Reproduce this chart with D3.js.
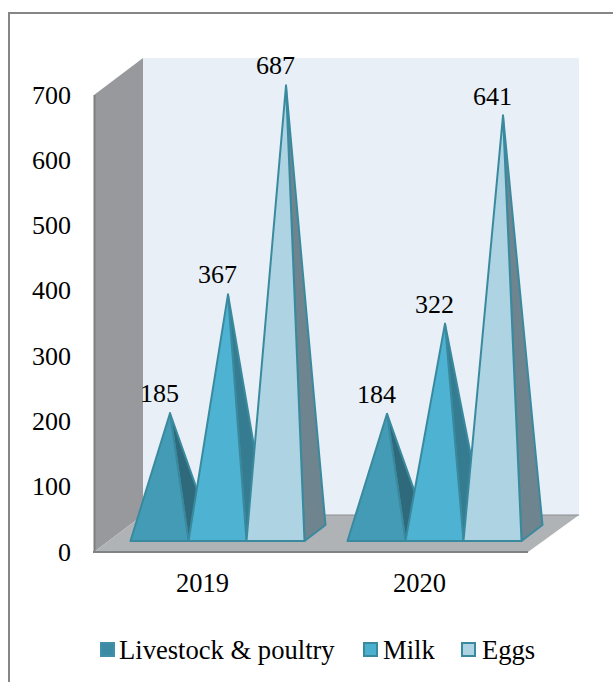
<!DOCTYPE html>
<html><head><meta charset="utf-8">
<style>html,body{margin:0;padding:0;background:#fff}svg{display:block}text{font-family:"Liberation Serif",serif;fill:#000}</style>
<script src="https://cdn.jsdelivr.net/npm/d3@7"></script></head><body>
<svg id="c" width="613" height="682"></svg>
<script>
const categories=["2019","2020"];
const seriesNames=["Livestock & poultry","Milk","Eggs"];
const livestock=[185,184];
const milk=[367,322];
const eggs=[687,641];
const tickValues=[0,100,200,300,400,500,600,700];
const seriesValues=[livestock,milk,eggs];
const fronts=["#439bb5","#4eb3d3","#aed3e3"];
const sides=["#2e6a7c","#357c90","#6e848e"];
const legendFill=["#3a8ba3","#4bb0ce","#aed3e3"];
const legendStroke=["#3f90a8","#3a8a9f","#3a8a9f"];
const stroke="#3a8a9f";

const svg=d3.select("#c");
svg.append("rect").attr("x",9).attr("y",13).attr("width",640).attr("height",700)
  .attr("fill","#fff").attr("stroke","#868686").attr("stroke-width",2);

const y=d3.scaleLinear().domain([0,700]).range([552,95]);
const x0=d3.scaleBand().domain(categories).range([94,528]);
const x1=d3.scaleBand().domain(d3.range(3)).range([36,210]);
const dx=49,dy=-37;

svg.append("rect").attr("x",94+dx).attr("y",y(700)+dy).attr("width",436).attr("height",y(0)-y(700)).attr("fill","#e8eff6");
svg.append("polygon").attr("points",[[94,y(700)],[94+dx,y(700)+dy],[94+dx,y(0)+dy],[94,y(0)]].join(" ")).attr("fill","#97999c");
svg.append("line").attr("x1",94.5).attr("x2",94.5).attr("y1",y(700)).attr("y2",y(0)).attr("stroke","#7d7f82").attr("stroke-width",2);
svg.append("polygon").attr("points",[[94,y(0)],[94+dx,y(0)+dy],[528+dx+2,y(0)+dy],[528,y(0)]].join(" ")).attr("fill","#b0b3b6");
svg.append("line").attr("x1",94+dx).attr("x2",528+dx+2).attr("y1",y(0)+dy).attr("y2",y(0)+dy).attr("stroke","#8c8e91").attr("stroke-width",1);
svg.append("line").attr("x1",93).attr("x2",528).attr("y1",y(0)).attr("y2",y(0)).attr("stroke","#808285").attr("stroke-width",2);

const baseY=y(0)-11, depthX=21, depthY=-16;
const h=v=>y(0)-y(v);
const off=0.5;
categories.forEach((c,i)=>{
  seriesValues.forEach((vals,s)=>{
    const l=x0(c)+x1(s)+off, r=l+x1.bandwidth();
    const ax=(l+r)/2+depthX/2, ay=baseY+depthY/2-h(vals[i])+1;
    svg.append("polygon").attr("points",[[r,baseY],[r+depthX,baseY+depthY],[ax,ay]].join(" "))
      .attr("fill",sides[s]).attr("stroke",stroke).attr("stroke-width",2).attr("stroke-linejoin","round");
  });
  seriesValues.forEach((vals,s)=>{
    const l=x0(c)+x1(s)+off, r=l+x1.bandwidth();
    const ax=(l+r)/2+depthX/2, ay=baseY+depthY/2-h(vals[i])+1;
    svg.append("polygon").attr("points",[[l,baseY],[r,baseY],[ax,ay]].join(" "))
      .attr("fill",fronts[s]).attr("stroke",stroke).attr("stroke-width",2).attr("stroke-linejoin","round");
    svg.append("text").attr("x",ax-10.5).attr("y",ay-11).attr("text-anchor","middle").attr("font-size",26).text(vals[i]);
  });
});

tickValues.forEach(t=>{
  svg.append("text").attr("x",71).attr("y",y(t)+8.5).attr("text-anchor","end").attr("font-size",26).text(t);
});
categories.forEach(c=>{
  svg.append("text").attr("x",x0(c)+x0.bandwidth()/2).attr("y",592).attr("text-anchor","middle").attr("font-size",26.5).text(c);
});

const lx=[101,364,462];
const tx=[119,383,482];
seriesNames.forEach((n,i)=>{
  svg.append("rect").attr("x",lx[i]).attr("y",643).attr("width",13).attr("height",13)
    .attr("fill",legendFill[i]).attr("stroke",legendStroke[i]).attr("stroke-width",2);
  svg.append("text").attr("x",tx[i]).attr("y",659).attr("font-size",26.6).text(n);
});
</script></body></html>
